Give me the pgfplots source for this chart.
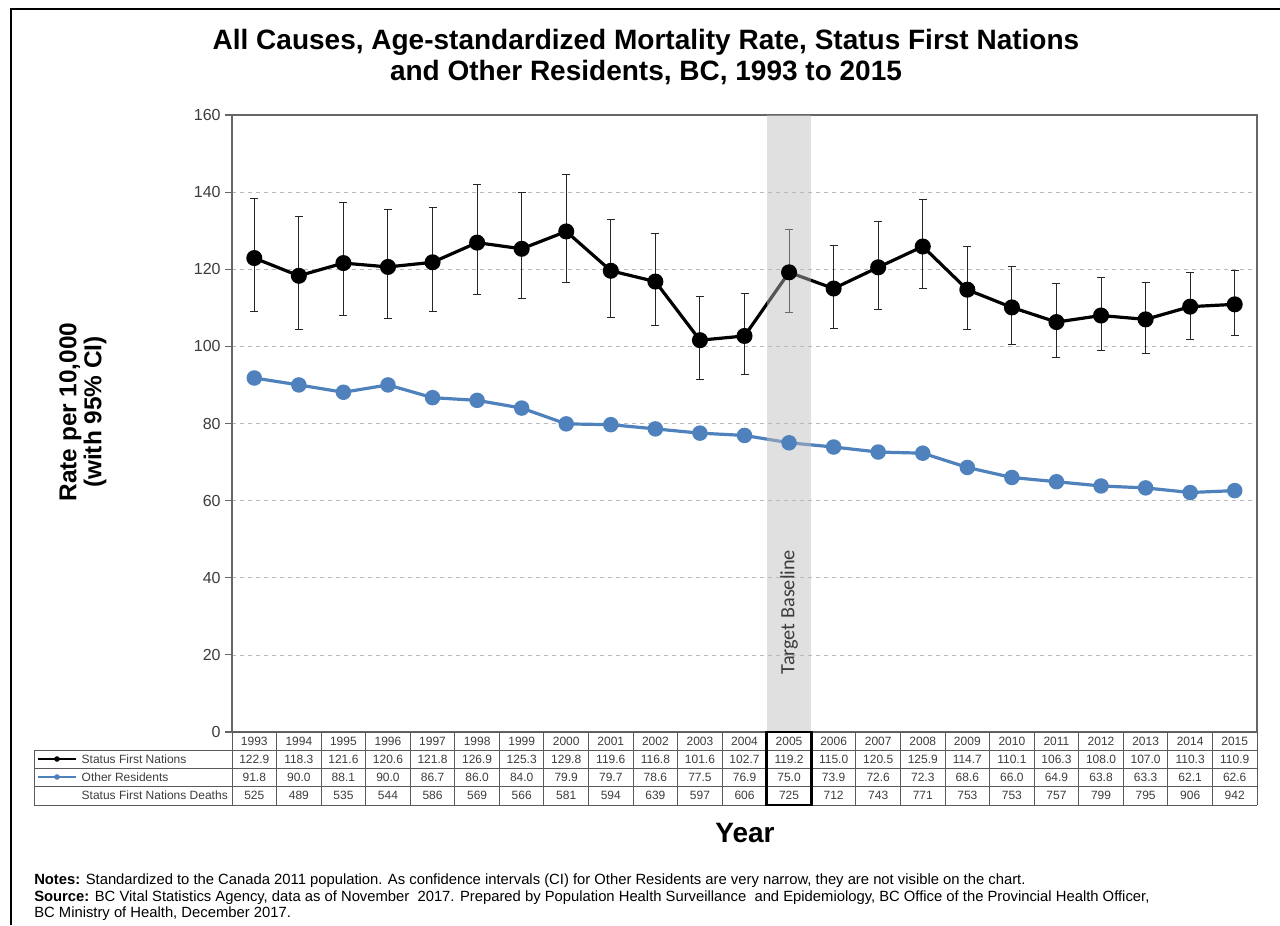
\documentclass[border=0pt]{standalone}
\usepackage{pgfplots}
\pgfplotsset{compat=1.18}
\usepackage{pgfplotstable}
\usepackage{fontspec}
\setmainfont{Liberation Sans}
\newfontfamily\calibri{Carlito}

\definecolor{othblue}{RGB}{79,129,189}
\definecolor{txtgray}{RGB}{60,60,60}
\definecolor{tabline}{RGB}{90,90,90}
\definecolor{bandgray}{RGB}{187,187,187}

% Status First Nations: rate with 95% CI (lo, hi)
\pgfplotstableread{
year rate lo hi
1993 122.9 109.0 138.4
1994 118.3 104.4 133.7
1995 121.6 108.0 137.3
1996 120.6 107.3 135.5
1997 121.8 109.0 136.1
1998 126.9 113.4 141.9
1999 125.3 112.3 139.9
2000 129.8 116.6 144.5
2001 119.6 107.6 132.8
2002 116.8 105.3 129.3
2003 101.6 91.4 112.9
2004 102.7 92.8 113.7
2005 119.2 108.7 130.4
2006 115.0 104.7 126.1
2007 120.5 109.6 132.3
2008 125.9 114.9 138.0
2009 114.7 104.4 125.9
2010 110.1 100.4 120.7
2011 106.3 97.2 116.3
2012 108.0 99.0 117.8
2013 107.0 98.1 116.6
2014 110.3 101.8 119.2
2015 110.9 102.7 119.8
}\sfn

% Other Residents
\pgfplotstableread{
year rate
1993 91.8
1994 90.0
1995 88.1
1996 90.0
1997 86.7
1998 86.0
1999 84.0
2000 79.9
2001 79.7
2002 78.6
2003 77.5
2004 76.9
2005 75.0
2006 73.9
2007 72.6
2008 72.3
2009 68.6
2010 66.0
2011 64.9
2012 63.8
2013 63.3
2014 62.1
2015 62.6
}\oth

\newcommand\tabfont{\fontsize{9}{11}\selectfont\color{txtgray}}
\newcommand\notefont{\fontsize{11.1}{13}\selectfont}
\def\cw{44.5652}

\begin{document}
\begin{tikzpicture}[x=0.75pt,y=0.75pt]
\useasboundingbox (0,0) rectangle (1280,925);

\begin{axis}[
  at={(174pt,144.75pt)}, anchor=south west,
  scale only axis, width=768.75pt, height=462.75pt,
  xmin=1992.5, xmax=2015.5, ymin=0, ymax=160,
  xtick=\empty,
  ytick={0,20,...,160},
  ytick pos=left, ytick align=outside, major tick length=5pt,
  ymajorgrids, grid style={dashed, gray!55},
  axis line style={draw=gray!80!black, line width=0.9pt},
  tick style={draw=gray!80!black, line width=0.8pt},
  tick label style={font=\fontsize{12}{14}\selectfont, text=txtgray},
  /pgf/number format/assume math mode=true,
  clip=false,
]
\addplot[black, line width=2.4pt, mark=*, mark size=4.8pt,
  mark options={solid, fill=black},
  error bars/.cd, y dir=both, y explicit,
  error bar style={line width=0.75pt, black!85},
  error mark options={rotate=90, mark size=3pt, line width=0.75pt, black!85}]
  table[x=year, y=rate,
    y error plus expr=\thisrow{hi}-\thisrow{rate},
    y error minus expr=\thisrow{rate}-\thisrow{lo}] {\sfn};
\addplot[othblue, line width=2.4pt, mark=*, mark size=4.6pt,
  mark options={solid, fill=othblue}]
  table[x=year, y=rate] {\oth};
% target baseline band
\addplot[draw=none, fill=bandgray, fill opacity=0.455]
  coordinates {(2004.5,160) (2005.5,160)} \closedcycle;
\node[rotate=90, font=\calibri\fontsize{15.2}{16}\selectfont, text=txtgray]
  at (axis cs:2005,31.1) {Target Baseline};
\end{axis}

% title and axis titles
\node[font=\bfseries\fontsize{21}{23.25}\selectfont, align=center]
  at (646,867.5) {All Causes, Age-standardized Mortality Rate, Status First Nations\\and Other Residents, BC, 1993 to 2015};
\node[rotate=90, font=\bfseries\fontsize{18.3}{18.75}\selectfont, align=center]
  at (83,513) {Rate per 10,000\\(with 95\% CI)};
\node[font=\bfseries\fontsize{21}{22}\selectfont] at (745,92) {Year};

% data table
\foreach \i in {0,...,23}
  \draw[tabline, line width=0.7pt] ({232+\i*\cw},193) -- ({232+\i*\cw},120);
\draw[tabline, line width=0.7pt] (232,193) -- (1257,193);
\foreach \yy in {175,157,139,120}
  \draw[tabline, line width=0.7pt] (34,\yy) -- (1257,\yy);
\draw[tabline, line width=0.7pt] (34,175) -- (34,120);

\foreach \v [count=\i from 0] in {1993,...,2015}
  \node[font=\tabfont] at ({232+(\i+0.5)*\cw},184) {\v};
\foreach \v [count=\i from 0] in {122.9,118.3,121.6,120.6,121.8,126.9,125.3,129.8,119.6,116.8,101.6,102.7,119.2,115.0,120.5,125.9,114.7,110.1,106.3,108.0,107.0,110.3,110.9}
  \node[font=\tabfont] at ({232+(\i+0.5)*\cw},166) {\v};
\foreach \v [count=\i from 0] in {91.8,90.0,88.1,90.0,86.7,86.0,84.0,79.9,79.7,78.6,77.5,76.9,75.0,73.9,72.6,72.3,68.6,66.0,64.9,63.8,63.3,62.1,62.6}
  \node[font=\tabfont] at ({232+(\i+0.5)*\cw},148) {\v};
\foreach \v [count=\i from 0] in {525,489,535,544,586,569,566,581,594,639,597,606,725,712,743,771,753,753,757,799,795,906,942}
  \node[font=\tabfont] at ({232+(\i+0.5)*\cw},129.5) {\v};

\draw[black, line width=2pt] ({232+12*\cw},120) rectangle ({232+13*\cw},193);

\draw[black, line width=1.6pt] (38,166) -- (76,166);
\fill[black] (57,166) circle (2.8);
\draw[othblue, line width=1.6pt] (38,148) -- (76,148);
\fill[othblue] (57,148) circle (2.8);
\node[anchor=west, font=\tabfont] at (77,166) {Status First Nations};
\node[anchor=west, font=\tabfont] at (77,148) {Other Residents};
\node[anchor=west, font=\tabfont] at (77,129.5) {Status First Nations Deaths};

% notes
\node[anchor=base west, font=\notefont, inner sep=0pt] at (34,41)
  {\textbf{Notes:} Standardized to the Canada 2011 population. As confidence intervals (CI) for Other Residents are very narrow, they are not visible on the chart.};
\node[anchor=base west, font=\notefont, inner sep=0pt] at (34,24)
  {\textbf{Source:} BC Vital Statistics Agency, data as of November~ 2017. Prepared by Population Health Surveillance~ and Epidemiology, BC Office of the Provincial Health Officer,};
\node[anchor=base west, font=\notefont, inner sep=0pt] at (34,8)
  {BC Ministry of Health, December 2017.};

% outer frame
\draw[black, line width=1.6pt] (11,0) -- (11,916) -- (1280,916);
\end{tikzpicture}
\end{document}
